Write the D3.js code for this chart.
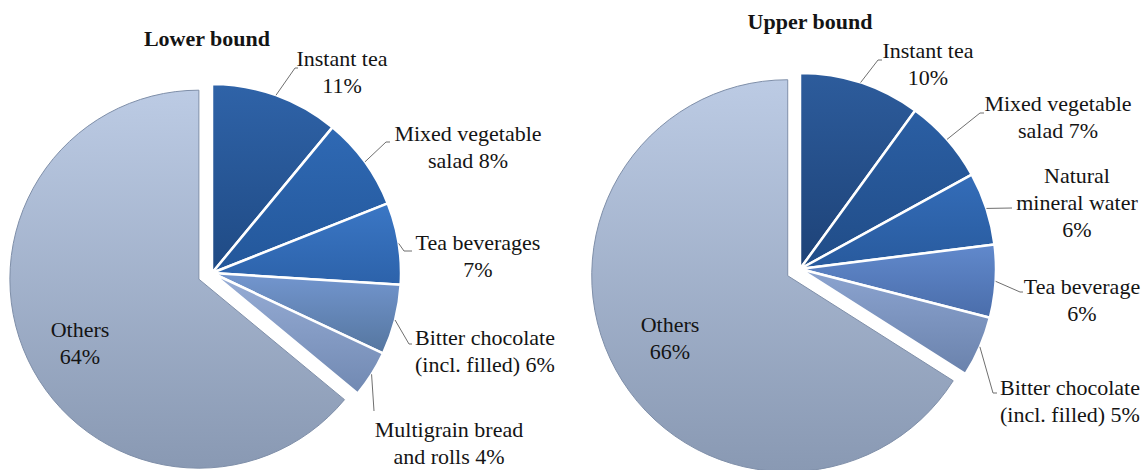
<!DOCTYPE html>
<html>
<head>
<meta charset="utf-8">
<script src="https://cdn.jsdelivr.net/npm/d3@7"></script>
<style>
  html, body { margin: 0; padding: 0; background: #fff; }
  svg { display: block; }
  text { font-family: "Liberation Serif", "Times New Roman", serif; fill: #141414; }
</style>
</head>
<body>
<svg id="chart" width="1146" height="470"></svg>
<script>
// ---------------- DATA ----------------
const leftTitle = "Lower bound";
const leftCategories = ["Instant tea", "Mixed vegetable salad", "Tea beverages", "Bitter chocolate (incl. filled)", "Multigrain bread and rolls", "Others"];
const leftValues = [11, 8, 7, 6, 4, 64];
const leftLabelLines = [["Instant tea", "{v}%"], ["Mixed vegetable", "salad {v}%"], ["Tea beverages", "{v}%"], ["Bitter chocolate", "(incl. filled) {v}%"], ["Multigrain bread", "and rolls {v}%"], ["Others", "{v}%"]];

const rightTitle = "Upper bound";
const rightCategories = ["Instant tea", "Mixed vegetable salad", "Natural mineral water", "Tea beverage", "Bitter chocolate (incl. filled)", "Others"];
const rightValues = [10, 7, 6, 6, 5, 66];
const rightLabelLines = [["Instant tea", "{v}%"], ["Mixed vegetable", "salad {v}%"], ["Natural", "mineral water", "{v}%"], ["Tea beverage", "{v}%"], ["Bitter chocolate", "(incl. filled) {v}%"], ["Others", "{v}%"]];

// ---------------- LAYOUT / STYLE ----------------
const leftLayout = {
  cx: 212, cy: 273, r: 189, explode: 14.5,
  title: { x: 207, y: 46 },
  labels: [
    { x: 342, y: 66, leader: [[295, 68], [298, 68]] },
    { x: 468, y: 141, leader: [[386, 142], [390, 142]] },
    { x: 478, y: 250, leader: [[404, 251], [412, 251]] },
    { x: 485, y: 345, leader: [[409, 344], [412, 344]] },
    { x: 449, y: 437, leader: [[374, 411]] },
    { x: 80, y: 337, leader: null }
  ],
  colors: [["#2f63a8", "#1f4a84"], ["#2f69b4", "#23579a"], ["#3b77c5", "#2c62aa"], ["#7396cf", "#55769f"], ["#97add6", "#7189b2"], ["#bccbe4", "#8999b3"]]
};
const rightLayout = {
  cx: 800, cy: 269, r: 196, explode: 14,
  title: { x: 810, y: 29 },
  labels: [
    { x: 928, y: 58, leader: [[878, 60], [882, 60]] },
    { x: 1058, y: 111, leader: [[980, 113], [984, 113]] },
    { x: 1077, y: 183, leader: [[1012, 208]] },
    { x: 1082, y: 294, leader: [[1020, 292], [1023, 292]] },
    { x: 1070, y: 395, leader: [[993, 393], [997, 393]] },
    { x: 670, y: 332, leader: null }
  ],
  colors: [["#2d5c9c", "#1d4277"], ["#2b5fa4", "#204c87"], ["#346db9", "#285a9d"], ["#6189cc", "#4a6daa"], ["#8ca4d0", "#6a82ac"], ["#bccbe4", "#8999b3"]]
};

const FONT = 22, LINE = 27;

const svg = d3.select("#chart");
const defs = svg.append("defs");

function drawPie(id, title, cats, values, lines, L) {
  const pie = d3.pie().sort(null).value(d => d)(values);
  const arc = d3.arc().innerRadius(0).outerRadius(L.r);
  const g = svg.append("g").attr("class", "pie-" + id);

  L.colors.forEach((c, i) => {
    const gr = defs.append("linearGradient")
      .attr("id", `g-${id}-${i}`)
      .attr("x1", 0).attr("y1", 0).attr("x2", 0).attr("y2", 1);
    gr.append("stop").attr("offset", "0%").attr("stop-color", c[0]);
    gr.append("stop").attr("offset", "100%").attr("stop-color", c[1]);
  });

  const last = pie.length - 1;
  pie.forEach((d, i) => {
    let ox = 0, oy = 0;
    if (i === last) {
      const mid = (d.startAngle + d.endAngle) / 2;
      ox = L.explode * Math.sin(mid);
      oy = -L.explode * Math.cos(mid);
    }
    g.append("path")
      .attr("d", arc(d))
      .attr("transform", `translate(${L.cx + ox},${L.cy + oy})`)
      .attr("fill", `url(#g-${id}-${i})`)
      .attr("stroke", i === last ? "#7f8fa9" : "#ffffff")
      .attr("stroke-width", i === last ? 1 : 2.5)
      .attr("stroke-linejoin", "round");
  });

  pie.forEach((d, i) => {
    const lab = L.labels[i];
    if (!lab.leader) return;
    const mid = (d.startAngle + d.endAngle) / 2;
    const p0 = [L.cx + L.r * Math.sin(mid), L.cy - L.r * Math.cos(mid)];
    const pts = [p0].concat(lab.leader);
    g.append("path")
      .attr("d", d3.line()(pts))
      .attr("fill", "none")
      .attr("stroke", "#6f6f6f")
      .attr("stroke-width", 1);
  });

  pie.forEach((d, i) => {
    const lab = L.labels[i];
    const t = g.append("text")
      .attr("text-anchor", "middle")
      .attr("font-size", FONT);
    lines[i].forEach((ln, k) => {
      t.append("tspan")
        .attr("x", lab.x)
        .attr("y", lab.y + k * LINE)
        .text(ln.replace("{v}", values[i]));
    });
  });

  g.append("text")
    .attr("x", L.title.x).attr("y", L.title.y)
    .attr("text-anchor", "middle")
    .attr("font-size", FONT)
    .attr("font-weight", "bold")
    .text(title);
}

drawPie("left", leftTitle, leftCategories, leftValues, leftLabelLines, leftLayout);
drawPie("right", rightTitle, rightCategories, rightValues, rightLabelLines, rightLayout);
</script>
</body>
</html>
